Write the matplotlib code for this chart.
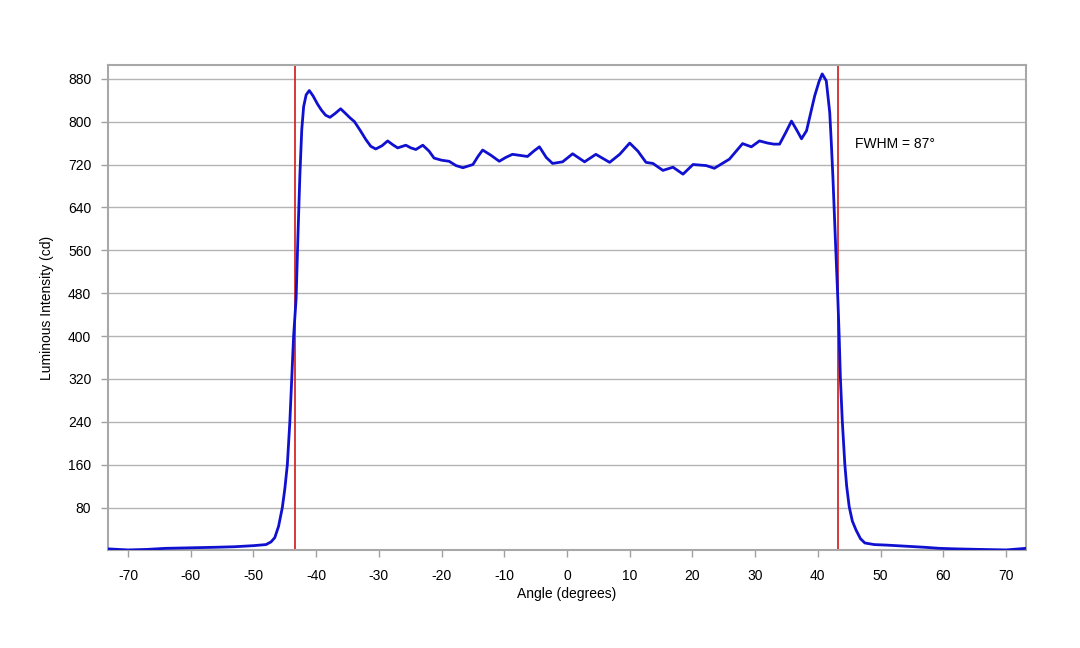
import numpy as np
import matplotlib
matplotlib.use('Agg')
from matplotlib import pyplot as plt

plt.rcParams['font.family'] = ['Liberation Sans', 'DejaVu Sans']
plt.rcParams['axes.unicode_minus'] = False

# angle (deg) and luminous intensity (cd)
angle = [-73.2, -70, -67, -64, -60, -56, -53, -50, -48, -47.2, -46.6, -46.0,
         -45.4, -45.0, -44.6, -44.2, -43.9, -43.6, -43.2, -42.9, -42.6, -42.3,
         -42.0, -41.6, -41.1, -40.5, -39.8, -39.2, -38.5, -37.8, -37.0, -36.1,
         -35.3, -34.6, -33.9, -33.0, -32.1, -31.3, -30.5, -29.5, -28.6, -27.8,
         -27.0, -25.7, -24.9, -24.1, -23.0, -22.0, -21.2, -20.0, -18.8, -17.7,
         -16.6, -15.0, -14.2, -13.45, -12.1, -10.8, -9.8, -8.7, -7.5, -6.3,
         -5.3, -4.4, -3.3, -2.3, -0.7, 0.9, 2.8, 4.6, 6.8, 8.4, 10.0, 11.3,
         12.6, 13.7, 15.3, 16.9, 18.5, 20.1, 22.2, 23.5, 25.9, 28.0, 29.4,
         30.7, 32.0, 33.0, 33.9, 34.9, 35.8, 36.6, 37.4, 38.2, 39.5, 40.2,
         40.7, 41.35, 41.9, 42.15, 42.4, 42.8, 43.2, 43.4, 43.6, 43.9, 44.3,
         44.6, 45.0, 45.5, 46.1, 46.8, 47.5, 49, 51, 54, 57, 59.4, 62, 65.8,
         70, 73.2]
intensity = [3, 1, 2, 4, 5, 6, 7, 9, 11, 16, 24, 45,
             80, 115, 160, 240, 320, 400, 470, 590, 700, 785,
             828, 850, 858, 848, 833, 822, 812, 808, 815, 824,
             815, 807, 800, 784, 767, 754, 749, 755, 764, 757,
             751, 756, 751, 748, 756, 745, 732, 728, 726, 718,
             714, 720, 735, 747, 737, 726, 733, 739, 737, 735,
             745, 753, 733, 722, 725, 740, 725, 739, 724, 739, 760, 745,
             724, 722, 709, 715, 702, 720, 718, 713, 730, 759, 753,
             764, 760, 758, 758, 780, 801, 785, 768, 783, 848, 875,
             889, 876, 817, 761, 698, 580, 467, 402, 322, 242, 162,
             120, 82, 55, 38, 22, 14, 11, 10, 8, 6, 4, 3, 2,
             1, 4]

fwhm_lines = [-43.4, 43.2]
yticks = [80, 160, 240, 320, 400, 480, 560, 640, 720, 800, 880]
xticks = [-70, -60, -50, -40, -30, -20, -10, 0, 10, 20, 30, 40, 50, 60, 70]

fig = plt.figure(figsize=(10.8, 6.48), dpi=100)
ax = fig.add_axes([0.1, 0.1505, 0.85, 0.7495])

for y in yticks:
    ax.axhline(y, color='#b4b4b4', lw=1, zorder=0)

ax.plot(angle, intensity, color='#1010d0', lw=2, zorder=3,
        solid_joinstyle='round', solid_capstyle='round')
for x in fwhm_lines:
    ax.axvline(x, color='#d42a2a', lw=1.3, zorder=2)

ax.text(45.9, 759, 'FWHM = 87°', fontsize=10, va='center', ha='left')

ax.set_xlim(-73.2, 73.2)
ax.set_ylim(0, 906)
ax.set_xticks(xticks)
ax.set_yticks(yticks)
ax.tick_params(axis='both', labelsize=10, length=5, color='#a0a0a0', width=1)
ax.tick_params(axis='x', pad=8)
ax.tick_params(axis='y', pad=7)
for s in ax.spines.values():
    s.set_color('#a8a8a8')
    s.set_linewidth(1.5)

ax.set_xlabel('Angle (degrees)', fontsize=10, labelpad=3)
ax.set_ylabel('Luminous Intensity (cd)', fontsize=10, labelpad=10)

plt.savefig('out.png', dpi=100)
